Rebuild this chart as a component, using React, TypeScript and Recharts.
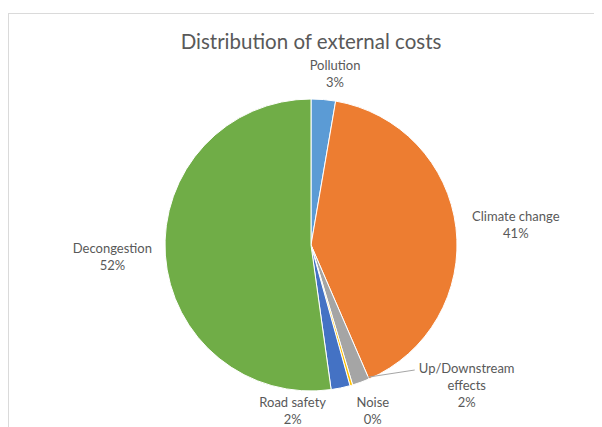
import { PieChart, Pie, Cell } from 'recharts';

// values (percent of total external costs)
const categories = ['Pollution', 'Climate change', 'Up/Downstream effects', 'Noise', 'Road safety', 'Decongestion'];
const shares = [2.7, 40.8, 1.9, 0.3, 2.1, 52.2];
const colors = ['#5B9BD5', '#ED7D31', '#A5A5A5', '#FFC000', '#4472C4', '#70AD47'];

// label nudges so the labels sit where Excel put them
const labelNudge: Record<string, { dx: number; dy: number; leader?: boolean }> = {
    'Pollution': { dx: 10, dy: -6 },
    'Climate change': { dx: 40, dy: -1 },
    'Up/Downstream effects': { dx: 99, dy: -16, leader: true },
    'Noise': { dx: 16, dy: 6 },
    'Road safety': { dx: -52, dy: 3 },
    'Decongestion': { dx: -33, dy: 0 },
};

const chartData = categories.map((name, i) => ({ name, value: shares[i] }));

const RAD = Math.PI / 180;
const TEXT = '#595959';
const FONT = 'Lato, "Liberation Sans", sans-serif';

function splitName(name: string) {
    if (name.length <= 15) return [name];
    const at = name.lastIndexOf(' ');
    return [name.slice(0, at), name.slice(at + 1)];
}

function renderLabel(props: any) {
    const { cx, cy, midAngle, outerRadius, percent, name } = props;
    const r = outerRadius + 20;
    const nudge = labelNudge[name] || { dx: 0, dy: 0 };
    const x = cx + r * Math.cos(-midAngle * RAD) + nudge.dx;
    const y = cy + r * Math.sin(-midAngle * RAD) + nudge.dy;
    const lines = [...splitName(name), `${Math.round(percent * 100)}%`];
    const lh = 17;
    const top = y - ((lines.length - 1) * lh) / 2;
    let leader = null;
    if (nudge.leader) {
        const sx = cx + (outerRadius - 4) * Math.cos(-midAngle * RAD);
        const sy = cy + (outerRadius - 4) * Math.sin(-midAngle * RAD);
        leader = <polyline points={`${sx},${sy} ${x - 52},${top + 2}`} fill="none" stroke="#A6A6A6" strokeWidth={1} />;
    }
    return (
        <g>
            {leader}
            {lines.map((t, i) => (
                <text key={i} x={x} y={top + i * lh} textAnchor="middle" dominantBaseline="central"
                    fill={TEXT} fontSize={13} fontFamily={FONT}>
                    {t}
                </text>
            ))}
        </g>
    );
}

export default function App() {
    return (
        <div style={{ position: 'relative', width: 594, height: 419, background: '#fff' }}>
            <div style={{
                position: 'absolute', left: 0, top: 5, width: 592, height: 430,
                border: '1px solid #dadada', boxSizing: 'border-box',
            }} />
            <div style={{
                position: 'absolute', left: 0, width: 606, top: 21, textAlign: 'center',
                fontFamily: FONT, fontSize: 20.5, color: TEXT,
            }}>
                Distribution of external costs
            </div>
            <div style={{ position: 'absolute', left: 0, top: 0 }}>
                <PieChart width={594} height={419} margin={{ top: 0, right: 0, bottom: 0, left: 0 }}>
                    <Pie
                        data={chartData}
                        dataKey="value"
                        nameKey="name"
                        cx={303}
                        cy={237}
                        outerRadius={146}
                        startAngle={90}
                        endAngle={-270}
                        stroke="#fff"
                        strokeWidth={1}
                        label={renderLabel}
                        labelLine={false}
                        isAnimationActive={false}
                    >
                        {chartData.map((d, i) => (
                            <Cell key={d.name} fill={colors[i]} />
                        ))}
                    </Pie>
                </PieChart>
            </div>
        </div>
    );
}
